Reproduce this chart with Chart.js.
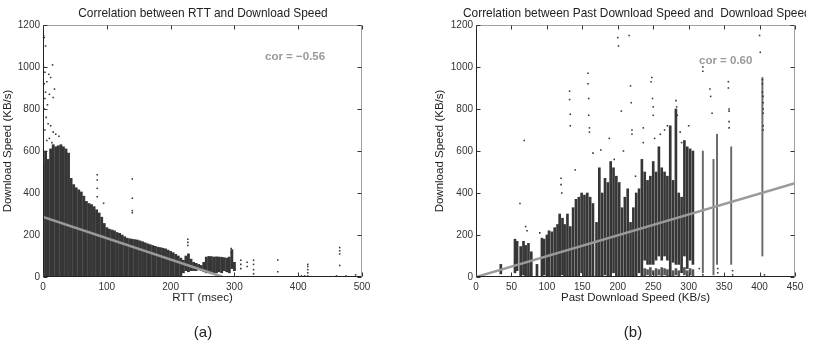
<!DOCTYPE html>
<html>
<head>
<meta charset="utf-8">
<script src="https://cdn.jsdelivr.net/npm/chart.js@4.4.1/dist/chart.umd.min.js"></script>
<style>
  body { margin: 0; background: #fff; }
  #wrap { position: relative; width: 819px; height: 346px; overflow: hidden; background: #fff; }
  canvas { position: absolute; top: 0; }
  .lbl { position: absolute; font-family: "Liberation Sans", Arial, sans-serif; color: #222; white-space: nowrap; }
  .title { font-size: 11.9px; line-height: 14px; top: 6px; }
  .panel { font-size: 15px; line-height: 16px; top: 324px; }
</style>
</head>
<body>
<div id="wrap">
  <canvas id="chartA" width="410" height="346" style="left:0"></canvas>
  <canvas id="chartB" width="409" height="346" style="left:410px"></canvas>
  <div class="lbl title" style="left:3px;width:400px;text-align:center">Correlation between RTT and Download Speed</div>
  <div class="lbl title" style="left:463px;width:343px;overflow:hidden">Correlation between Past Download Speed and&nbsp; Download Speed</div>
  <div class="lbl panel" style="left:183px;width:40px;text-align:center">(a)</div>
  <div class="lbl panel" style="left:613px;width:40px;text-align:center">(b)</div>
</div>
<script>
// ---- (a) RTT vs download speed: dense cloud read as vertical ranges ----
const rttX = [0, 4, 8, 12, 16, 20, 24, 28, 32, 36, 40, 44, 48, 52, 56, 60, 64, 68, 72, 76,
  80, 84, 88, 92, 96, 100, 104, 108, 112, 116, 120, 124, 128, 132, 136, 140, 144, 148, 152, 156,
  160, 164, 168, 172, 176, 180, 184, 188, 192, 196, 200, 204, 208, 212, 216, 220, 224, 228, 232, 236,
  240, 244, 248, 252, 256, 260, 264, 268, 272, 276, 280, 284, 288, 292, 296, 300];
const rttHi = [540, 600, 560, 610, 630, 620, 625, 630, 620, 610, 590, 470, 440, 425, 415, 405, 385, 360, 350, 345,
  335, 320, 305, 285, 255, 235, 228, 224, 220, 212, 208, 200, 192, 185, 182, 180, 178, 176, 172, 168,
  163, 158, 154, 150, 146, 142, 140, 137, 134, 128, 122, 116, 108, 100, 90, 80, 100, 110, 85, 70,
  65, 60, 55, 70, 95, 98, 97, 95, 96, 95, 94, 92, 90, 95, 130, 70];
const rttLo = [0, 0, 0, 0, 0, 0, 0, 0, 0, 0, 0, 0, 0, 0, 0, 0, 0, 0, 0, 0,
  0, 0, 0, 0, 0, 0, 0, 0, 0, 0, 0, 0, 0, 0, 0, 0, 0, 0, 0, 0,
  0, 0, 0, 0, 0, 0, 0, 0, 0, 0, 0, 0, 0, 0, 5, 20, 30, 25, 30, 30,
  30, 35, 30, 25, 20, 20, 25, 20, 20, 25, 20, 30, 25, 20, 40, 30];
const rttOutliers = [[1, 1150], [2, 1140], [4, 1100], [0, 1060], [1, 1000], [3, 975], [9, 965], [15, 1010],
  [12, 950], [6, 930], [2, 920], [4, 880], [10, 870], [18, 895], [16, 855], [3, 850], [7, 820], [2, 800],
  [5, 760], [8, 730], [3, 700], [12, 720], [20, 680], [25, 670], [16, 690], [6, 650], [10, 660], [14, 640],
  [85, 487], [85, 462], [85, 422], [85, 382],
  [85, 316], [95, 351], [140, 467], [140, 375], [140, 316], [140, 306], [227, 180], [227, 165], [227, 150],
  [295, 135], [295, 115], [310, 80], [310, 60], [310, 40], [320, 70], [320, 50], [330, 80], [330, 60],
  [330, 35], [330, 15], [368, 81], [368, 25], [405, 5], [410, 5], [415, 60], [415, 50], [415, 35], [415, 20],
  [415, 5], [465, 140], [465, 125], [465, 110], [465, 55], [460, 5], [475, 5], [490, 10]];
const rttFitX = [0, 282];
const rttFitY = [286, 0];

// ---- (b) past download speed vs download speed: vertical strips ----
const pastX = [35, 55, 58, 63, 67, 70, 74, 78, 86, 93, 96, 100, 103, 107, 111, 115, 118, 122, 125, 129,
  133, 137, 141, 145, 149, 153, 157, 161, 165, 170, 174, 178, 182, 186, 190, 194, 198, 202, 206, 210,
  214, 218, 222, 226, 230, 234, 238, 242, 246, 250, 254, 258, 262, 266, 270, 274, 278, 282, 286, 290,
  294, 298, 302, 306];
const pastHi = [60, 180, 170, 145, 170, 150, 160, 120, 60, 185, 180, 200, 220, 215, 235, 250, 300, 280, 250, 300,
  240, 330, 370, 380, 400, 390, 400, 380, 350, 260, 520, 400, 470, 450, 550, 520, 480, 450, 330, 380,
  420, 260, 330, 400, 420, 560, 500, 460, 480, 550, 500, 620, 520, 500, 480, 720, 460, 800, 400, 380,
  650, 620, 610, 600];
const pastLo = [15, 20, 30, 0, 10, 0, 0, 0, 0, 0, 10, 0, 0, 0, 0, 0, 0, 10, 0, 0,
  0, 0, 0, 0, 20, 0, 0, 0, 0, 0, 0, 0, 10, 0, 0, 20, 0, 0, 0, 0,
  0, 0, 0, 0, 20, 0, 80, 60, 60, 60, 80, 100, 80, 100, 80, 0, 70, 60, 60, 20,
  100, 40, 80, 60];
// low row of marks under the 240-306 strips
const pastLowX = [238, 242, 246, 250, 254, 258, 262, 266, 270, 278, 282, 286, 294, 298, 302, 306];
const pastLowHi = [40, 35, 45, 30, 40, 35, 45, 40, 35, 30, 40, 30, 45, 30, 40, 35];
const pastLowLo = [5, 10, 5, 10, 5, 10, 5, 10, 5, 5, 10, 5, 10, 5, 10, 5];
const sparseX = [320, 335, 340, 360, 404];
const sparseHi = [600, 560, 680, 620, 950];
const sparseLo = [20, 10, 60, 60, 100];
const pastOutliers = [[62, 350], [68, 650], [70, 240], [72, 220], [90, 210], [120, 470], [120, 440], [121, 400],
  [132, 885], [132, 845], [133, 775], [133, 720], [140, 510], [158, 970], [158, 920], [159, 850], [159, 770],
  [160, 710], [160, 690], [165, 590], [176, 605], [188, 660], [195, 560], [200, 1140], [201, 1100], [205, 790],
  [208, 600], [216, 1150], [218, 910], [219, 830], [220, 700], [220, 680], [225, 480], [236, 710], [236, 640],
  [247, 930], [248, 950], [249, 850], [250, 810], [250, 770], [252, 660], [260, 680], [266, 700], [270, 720],
  [282, 840], [283, 810], [284, 770], [288, 690], [290, 640], [300, 720], [320, 1000], [320, 980], [330, 895],
  [331, 860], [333, 780], [341, 40], [341, 20], [356, 930], [356, 900], [357, 800], [357, 790], [357, 740],
  [357, 710], [362, 30], [362, 10], [400, 1150], [401, 1070], [404, 940], [404, 920], [404, 880], [405, 860],
  [405, 830], [405, 800], [405, 780], [405, 720], [405, 700], [407, 10], [320, 10], [315, 40]];
const pastFitX = [0, 450];
const pastFitY = [0, 447];

const yTicks = [0, 200, 400, 600, 800, 1000, 1200];
const MARK = '#363636';
const FIT = '#9a9a9a';

Chart.defaults.font.family = '"Liberation Sans", Arial, sans-serif';
Chart.defaults.color = '#333';

const ranges = (xs, lo, hi) => xs.map((x, i) => ({ x: x, y: [lo[i], hi[i]] }));
const pts = list => list.map(p => ({ x: p[0], y: p[1] }));
const fit = (xs, ys) => xs.map((x, i) => ({ x: x, y: ys[i] }));

// box with inward MATLAB style ticks
const boxPlugin = {
  id: 'box',
  afterDatasetsDraw(chart) {
    const { ctx, chartArea: a, scales: { x, y } } = chart;
    const L = Math.round(a.left) + 0.5, R = Math.round(a.right) - 0.5;
    const T = Math.round(a.top) + 0.5, B = Math.round(a.bottom) - 0.5;
    ctx.save();
    ctx.lineWidth = 1;
    ctx.strokeStyle = '#a0a0a0';
    ctx.beginPath();
    ctx.moveTo(L, T); ctx.lineTo(R, T); ctx.lineTo(R, B);
    ctx.stroke();
    ctx.strokeStyle = '#222';
    ctx.beginPath();
    ctx.moveTo(L, T); ctx.lineTo(L, B); ctx.lineTo(R, B);
    ctx.stroke();
    ctx.strokeStyle = '#333';
    ctx.beginPath();
    x.ticks.forEach(t => {
      const px = Math.round(x.getPixelForValue(t.value)) + 0.5;
      ctx.moveTo(px, T); ctx.lineTo(px, T + 4);
      ctx.moveTo(px, B); ctx.lineTo(px, B - 4);
    });
    y.ticks.forEach(t => {
      const py = Math.round(y.getPixelForValue(t.value)) + 0.5;
      ctx.moveTo(L, py); ctx.lineTo(L + 4, py);
      ctx.moveTo(R, py); ctx.lineTo(R - 4, py);
    });
    ctx.stroke();
    ctx.restore();
  }
};

// "cor = ..." note drawn at data coordinates
const corPlugin = {
  id: 'cor',
  afterDatasetsDraw(chart, args, opts) {
    const { ctx, scales: { x, y } } = chart;
    ctx.save();
    ctx.font = 'bold 11.5px "Liberation Sans", Arial, sans-serif';
    ctx.fillStyle = FIT;
    ctx.textAlign = 'left';
    ctx.textBaseline = 'middle';
    ctx.fillText(opts.text, x.getPixelForValue(opts.x), y.getPixelForValue(opts.y));
    ctx.restore();
  }
};

function makeChart(id, cfg) {
  return new Chart(document.getElementById(id), {
    type: 'bar',
    data: { datasets: cfg.datasets },
    options: {
      responsive: false,
      animation: false,
      layout: { padding: cfg.padding },
      plugins: { legend: { display: false }, tooltip: { enabled: false }, cor: cfg.cor },
      scales: {
        x: {
          type: 'linear', offset: false, min: 0, max: cfg.xMax,
          grid: { display: false, drawTicks: false }, border: { display: false },
          ticks: { stepSize: cfg.xStep, padding: 4, font: { size: 10 }, maxRotation: 0, callback: v => String(v) },
          title: { display: true, text: cfg.xTitle, font: { size: 11.5 }, color: '#222', padding: { top: 0, bottom: 2 } },
          afterFit: s => { s.height = 30; }
        },
        y: {
          type: 'linear', min: 0, max: 1200,
          grid: { display: false, drawTicks: false }, border: { display: false },
          afterBuildTicks: s => { s.ticks = yTicks.map(v => ({ value: v })); },
          ticks: { padding: 3, font: { size: 10 }, callback: v => String(v) },
          title: { display: true, text: 'Download Speed (KB/s)', font: { size: 11.5 }, color: '#222', padding: { top: 1, bottom: 0 } },
          afterFit: s => { s.width = cfg.yWidth; }
        }
      }
    },
    plugins: [boxPlugin, corPlugin]
  });
}

makeChart('chartA', {
  padding: { left: 0, right: 48, top: 25, bottom: 39 },
  yWidth: 43, xMax: 500, xStep: 100, xTitle: 'RTT (msec)',
  cor: { text: 'cor = \u22120.56', x: 348, y: 1048 },
  datasets: [
    { type: 'line', data: fit(rttFitX, rttFitY), borderColor: FIT, borderWidth: 2.5, pointRadius: 0, order: 0 },
    { type: 'scatter', data: pts(rttOutliers), pointStyle: 'rect', pointRadius: 1.1, backgroundColor: MARK, borderWidth: 0, order: 1 },
    { type: 'bar', data: ranges(rttX, rttLo, rttHi), backgroundColor: MARK, barThickness: 2.2, grouped: false, order: 2 }
  ]
});

makeChart('chartB', {
  padding: { left: 22, right: 24, top: 25, bottom: 39 },
  yWidth: 44, xMax: 450, xStep: 50, xTitle: 'Past Download Speed (KB/s)',
  cor: { text: 'cor = 0.60', x: 314.6, y: 1029 },
  datasets: [
    { type: 'line', data: fit(pastFitX, pastFitY), borderColor: FIT, borderWidth: 2.5, pointRadius: 0, order: 0 },
    { type: 'scatter', data: pts(pastOutliers), pointStyle: 'rect', pointRadius: 1.1, backgroundColor: MARK, borderWidth: 0, order: 1 },
    { type: 'bar', data: ranges(pastX, pastLo, pastHi), backgroundColor: MARK, barThickness: 2, grouped: false, order: 2 },
    { type: 'bar', data: ranges(pastLowX, pastLowLo, pastLowHi), backgroundColor: '#555', barThickness: 2, grouped: false, order: 3 },
    { type: 'bar', data: ranges(sparseX, sparseLo, sparseHi), backgroundColor: '#6a6a6a', barThickness: 1.3, grouped: false, order: 4 }
  ]
});
</script>
</body>
</html>
